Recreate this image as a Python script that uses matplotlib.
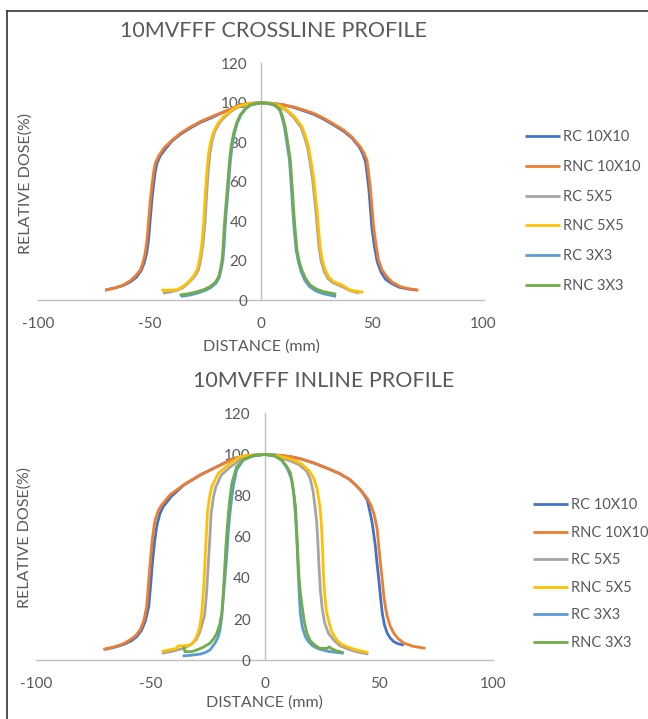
import matplotlib.pyplot as plt
from matplotlib.lines import Line2D

plt.rcParams['font.family'] = ['Lato', 'DejaVu Sans']
plt.rcParams['axes.unicode_minus'] = False

# ---- crossline profile data (distance mm, relative dose %) ----
cross_rc10_x = [-70, -66, -62, -58.5, -56, -53.8, -52.4, -51.3, -50.5, -49.8, -49, -48.3, -47.5, -46.7, -45.3, -43, -40, -36.2, -32, -27.3,
                -22, -18.3, -13, -9.3, -5, 0, 5, 10.2, 15, 19, 23.6, 28, 33, 37.1, 41, 44.2, 45.8, 47, 47.8, 48.5,
                49.2, 49.9, 51, 52.2, 54, 56, 58.5, 62, 66, 70]
cross_rc10_y = [5, 6, 7.3, 9.3, 11.5, 15, 19, 24, 30.4, 40, 50.7, 58, 65, 69.3, 73, 76.5, 80.5, 84, 87, 90,
                92.5, 94.5, 97, 98.9, 99.7, 100, 99.7, 98.9, 97.5, 96, 94.2, 91.8, 88.5, 85.6, 82, 77.5, 74, 70, 63, 56,
                46, 36, 27, 19.5, 14, 10.5, 8.5, 6.5, 5.6, 5]
cross_rnc10_x = [-70, -66, -62, -58.7, -56.5, -54.2, -53, -52, -51.2, -50.5, -49.7, -49, -48.2, -47.5, -46, -43.7, -40, -36.2, -32, -27.3,
                 -22, -18.3, -13, -9.3, -5, 0, 5, 10.2, 15, 19, 23.6, 28, 33, 37.1, 41, 44.6, 46.3, 47.6, 48.4, 49.1,
                 49.9, 50.6, 51.7, 52.8, 54.5, 56.6, 59, 62.6, 66, 70.8]
cross_rnc10_y = [5, 6, 7.5, 9.8, 12, 15.2, 19, 24, 30.4, 40, 50.7, 58, 65, 69.3, 73, 76.9, 81, 84.5, 87.5, 90.4,
                 93, 94.7, 97, 98.9, 99.7, 100, 99.7, 98.9, 97.8, 96.4, 94.7, 92.3, 89, 86.2, 82.5, 77.7, 74.5, 71, 64, 57.5,
                 47, 37.2, 28, 20.3, 15, 11.8, 9, 6.8, 5.8, 5]
cross_rc5_x = [-44, -41, -37.5, -35, -32.8, -30.5, -29.2, -28.1, -27, -26, -25.1, -24.4, -23.7, -22.9, -22, -20.8, -18.5, -16.5, -13.5, -10.8,
               -6, 0, 5, 8.5, 11.5, 14.7, 18, 19.6, 21, 22.1, 23.1, 23.9, 24.7, 25.4, 26.1, 27.1, 28.4, 30, 32.2, 36, 40, 44]
cross_rc5_y = [3.5, 4, 5, 6.3, 8.5, 11, 13, 15.2, 21, 28.7, 40, 54, 65, 74.4, 80.5, 85.3, 90, 92.5, 95.5, 97.5,
               99.3, 100, 99.3, 98, 96, 92.5, 87.5, 82.5, 77, 69.5, 62, 53.5, 45, 35.5, 26.5, 19.5, 14.5, 11, 8.8, 7, 4.8, 3.5]
cross_rnc5_x = [-44.5, -44, -41, -37.7, -35.5, -33.2, -31, -29.8, -28.7, -27.5, -26.5, -25.7, -25, -24.3, -23.5, -22.5, -21.3, -19, -16.8, -13.5,
                -10.8, -6, 0, 5, 8.5, 11.7, 15, 18.4, 20, 21.4, 22.5, 23.6, 24.4, 25.2, 25.9, 26.6, 27.6, 28.9, 30.5, 32.6,
                36.4, 40, 46]
cross_rnc5_y = [5.6, 4.8, 5, 5.2, 6.5, 8.5, 11, 13, 15.2, 21, 28.7, 40, 54, 65, 74.4, 80.5, 85.3, 90, 93, 96,
                98, 99.5, 100, 99.5, 98.5, 96.3, 93, 88, 83, 77.7, 70, 62.5, 54, 45.6, 36, 27, 20, 15.2, 11.5, 9.3,
                7.6, 5, 3.9]
cross_rc3_x = [-36, -32, -28.5, -25.2, -22.5, -20.2, -18.7, -17.9, -17.1, -16.6, -16.1, -15.5, -14.9, -14.3, -13.7, -12.9, -11.9, -10.7, -9, -6.8,
               -4.5, 0, 4, 6.5, 8.5, 9.5, 10.5, 11.6, 12.8, 13.6, 14.3, 15, 15.8, 16.8, 18, 19.7, 21.8, 24.8, 28, 33.8]
cross_rc3_y = [1.8, 2.5, 3.5, 4.8, 6.3, 8.5, 11.5, 15.5, 20.3, 27, 37.2, 46, 54, 62.5, 71, 78.5, 84.5, 89.5, 93.8, 97,
               98.9, 100, 99.5, 98.5, 96.3, 92.5, 87.9, 80, 71, 58, 45.6, 35, 25.4, 19.5, 14.5, 10, 6.8, 4.5, 3.2, 1.8]
cross_rnc3_x = [-36.6, -32, -28.7, -25.5, -22.8, -20.5, -19, -18.2, -17.5, -17, -16.5, -15.9, -15.3, -14.7, -14.1, -13.3, -12.3, -11, -9.3, -7,
                -4.8, 0, 4, 6.5, 8.7, 9.8, 10.9, 12, 13.2, 14, 14.7, 15.4, 16.2, 17.2, 18.4, 20, 22.1, 25, 28.1, 33.8]
cross_rnc3_y = [2.5, 3.3, 4.2, 5.3, 6.8, 9, 11.8, 15.5, 20.3, 27, 37.2, 46, 54, 62.5, 71, 78.5, 84.5, 89.5, 93.8, 97,
                98.9, 100, 99.5, 98.5, 96.3, 92.5, 87.9, 80, 71, 58, 45.6, 35, 25.4, 19.5, 15.2, 11, 7.6, 5.5, 4.2, 3]

# ---- inline profile data ----
inl_rc10_x = [-70, -66, -62, -58.5, -56, -54, -52.3, -50.8, -50, -49.2, -48.3, -47.5, -47, -45.8, -44.5, -41, -35.6, -28.3, -21, -13.7,
              -7, 0, 5, 11, 16, 21.9, 28, 32.8, 37, 40, 42.5, 44.9, 45.6, 46.4, 47.1, 47.8, 48.5, 49.2, 50, 50.7,
              51.5, 52.5, 53.7, 55, 56.6, 58.5, 61]
inl_rc10_y = [5.3, 6.3, 7.6, 9.4, 11.5, 14.5, 19, 26, 36, 47, 57, 63.5, 66.6, 71.5, 74.5, 79.5, 85, 90, 94, 98,
              99.5, 100, 99.7, 99, 97.8, 95.7, 93, 90.7, 88, 85, 82, 78, 74.6, 70.5, 66.6, 61, 55.2, 47, 39, 31,
              22.8, 17, 13.1, 10.8, 9, 8, 7.4]
inl_rnc10_x = [-70.7, -66, -62, -59, -56.5, -54.6, -53, -51.7, -51, -50.2, -49.3, -48.5, -48, -46.5, -45.1, -41.5, -35.6, -28.3, -21, -13.7,
               -7, 0, 5, 11, 16, 21.9, 28, 32.8, 37, 40, 42.5, 44.9, 46.5, 47.8, 48.6, 49.3, 50, 50.7, 51.5, 52.2,
               53, 53.7, 55, 56.6, 58.5, 61, 65, 70.4]
inl_rnc10_y = [5.3, 6.5, 8, 9.9, 12, 14.7, 19, 26, 36, 47, 58, 65, 68.2, 73, 75.5, 80.3, 85.2, 90, 94, 98,
               99.5, 100, 99.7, 99, 97.8, 95.7, 93, 90.7, 88, 85, 82, 78.7, 75.5, 71.4, 67.5, 63.3, 55, 47.1, 39, 30.9,
               25, 21.2, 16.5, 13.1, 10.5, 8.3, 6.8, 5.8]
inl_rc5_x = [-45, -40, -35, -32, -30, -28.5, -27.3, -26.3, -25.5, -24.7, -24, -23.5, -22.5, -21.5, -19, -15, -10.5, -5, 0,
             5, 11, 15, 18.3, 20, 21.2, 22.1, 22.8, 23.3, 23.8, 24.4, 25.2, 26.3, 28, 30.5, 33, 36.4, 40, 45.4]
inl_rc5_y = [3.4, 4.5, 6, 8, 10, 13.5, 18, 22, 32, 47, 60, 71, 79, 84, 90, 94, 97.5, 99.3, 100,
             99, 97, 95, 92, 88, 82, 74, 66.7, 57, 45, 34, 25, 18, 13, 9.5, 7, 5.5, 4.2, 3]
inl_rnc5_x = [-45.1, -42, -38.5, -38, -36, -32.7, -31, -29.8, -28.5, -27.6, -26.8, -26.2, -25.6, -25.1, -24.2, -23.2, -20.3, -15.2, -10.8, -5, 0,
              5, 11, 16, 19.5, 21.5, 23, 24.2, 24.9, 25.3, 25.7, 26.3, 27, 27.9, 29.3, 31.5, 34, 38, 41, 45.4]
inl_rnc5_y = [4.2, 5, 5.8, 7, 7, 7.4, 9, 11.5, 16, 22.8, 34, 47, 60, 71.4, 79, 84.4, 90.9, 95.7, 98.9, 99.7, 100,
              99.5, 98, 95.5, 92, 88.5, 83, 74.6, 65, 55, 42.3, 32, 24, 19.6, 14, 9.9, 7.5, 5.8, 4.8, 3.7]
inl_rc3_x = [-35.9, -32, -28.3, -26, -24, -21.8, -20.5, -19.6, -18.8, -18.1, -17.5, -16.9, -16.4, -15.9, -15.2, -14.4, -13.5, -12.3, -9.4, -5, 0,
             4, 7.4, 10, 11.9, 12.8, 13.5, 14.1, 14.6, 15.1, 15.6, 16.5, 17.8, 19.2, 21, 23.7, 28, 34.6]
inl_rc3_y = [2.1, 2.5, 3, 3.8, 5, 8.3, 11, 14.7, 21, 30.9, 39, 47, 55, 63.3, 71.5, 79.5, 86, 92.5, 97.3, 99.3, 100,
             99.5, 97.3, 93, 87.6, 80, 70, 58.5, 45, 33, 22.8, 16, 11.5, 9, 7, 5.5, 4.3, 3.4]
inl_rnc3_x = [-35.6, -34.9, -32, -29.8, -27, -24, -22.3, -21, -19.8, -18.8, -18.3, -17.8, -17.4, -17, -16.5, -15.9, -15.2, -14.4, -12.3, -8.6, -4, 0,
              4, 7.4, 9.5, 11.3, 12.5, 13.5, 14, 14.5, 14.9, 15.6, 16.4, 17.3, 18.5, 20, 21.9, 24.2, 27.3, 28.3, 29.5, 31.5, 34.6]
inl_rnc3_y = [6.6, 4.2, 4.2, 5, 6.3, 8.3, 10.5, 13.1, 17, 22.8, 30, 39, 47, 55.2, 63, 71.4, 79, 86, 94, 98, 99.7, 100,
              99.5, 97.3, 94.5, 90.9, 83, 74.6, 63, 52, 42.3, 33, 26, 19, 13.1, 9.5, 7.4, 5.8, 5.8, 6.5, 5.5, 4.6, 3.7]

labels = ['RC 10X10', 'RNC 10X10', 'RC 5X5', 'RNC 5X5', 'RC 3X3', 'RNC 3X3']
colors = ['#4472C4', '#ED7D31', '#A5A5A5', '#FFC000', '#5B9BD5', '#70AD47']
yticks = [0, 20, 40, 60, 80, 100, 120]
xticks = [-100, -50, 0, 50, 100]

cross = [(cross_rc10_x, cross_rc10_y), (cross_rnc10_x, cross_rnc10_y),
         (cross_rc5_x, cross_rc5_y), (cross_rnc5_x, cross_rnc5_y),
         (cross_rc3_x, cross_rc3_y), (cross_rnc3_x, cross_rnc3_y)]
inline = [(inl_rc10_x, inl_rc10_y), (inl_rnc10_x, inl_rnc10_y),
          (inl_rc5_x, inl_rc5_y), (inl_rnc5_x, inl_rnc5_y),
          (inl_rc3_x, inl_rc3_y), (inl_rnc3_x, inl_rnc3_y)]

W, H = 648, 719
fig = plt.figure(figsize=(W / 100, H / 100), dpi=100)
txt = '#595959'


def setup(ax):
    ax.set_xlim(-100, 100)
    ax.set_ylim(0, 120)
    for s in ['top', 'right']:
        ax.spines[s].set_visible(False)
    ax.spines['left'].set_position(('data', 0))
    ax.spines['bottom'].set_position(('data', 0))
    for s in ['left', 'bottom']:
        ax.spines[s].set_color('#BFBFBF')
        ax.spines[s].set_linewidth(1.0)
        ax.spines[s].set_zorder(0.5)
    ax.set_xticks(xticks)
    ax.set_yticks(yticks)
    ax.tick_params(axis='both', length=0, labelsize=11, labelcolor=txt)
    ax.tick_params(axis='x', pad=12)
    ax.tick_params(axis='y', pad=10)
    ax.patch.set_alpha(0)


def draw(ax, data, title, tx, ty, lx, ly, ylx, yly, xlx, xly, spacing):
    setup(ax)
    handles = []
    for (x, y), c, lab in zip(data, colors, labels):
        h, = ax.plot(x, y, color=c, lw=2.0, label=lab, solid_capstyle='butt')
        handles.append(h)
    fig.text(tx / W, 1 - ty / H, title, ha='center', va='center', fontsize=15.5, color=txt)
    fig.text(ylx / W, 1 - yly / H, 'RELATIVE DOSE(%)', rotation=90, ha='center', va='center',
             fontsize=11.5, color=txt)
    fig.text(xlx / W, 1 - xly / H, 'DISTANCE (mm)', ha='center', va='center', fontsize=11.5, color=txt)
    fig.legend(handles=handles, loc='center left', bbox_to_anchor=(lx / W, 1 - ly / H),
               frameon=False, fontsize=10.5, labelcolor=txt, handlelength=2.4,
               handletextpad=0.2, labelspacing=spacing, borderpad=0, borderaxespad=0)


ax1 = fig.add_axes([38.4 / W, 1 - 300 / H, 445.1 / W, 236.7 / H])
draw(ax1, cross, '10MVFFF CROSSLINE PROFILE', 273, 31, 525, 211.5, 26, 183, 261, 347, 1.08)

ax2 = fig.add_axes([36.4 / W, 1 - 660.3 / H, 456.6 / W, 247 / H])
draw(ax2, inline, '10MVFFF INLINE PROFILE', 324, 381, 533, 574, 25, 537, 264, 703, 0.93)

# page frame (top and left edges visible)
fig.add_artist(Line2D([7 / W, 1], [1 - 11 / H, 1 - 11 / H], color='#333333', lw=1.2))
fig.add_artist(Line2D([7 / W, 7 / W], [0, 1 - 11 / H], color='#333333', lw=1.2))

fig.savefig('out.png', dpi=100)
